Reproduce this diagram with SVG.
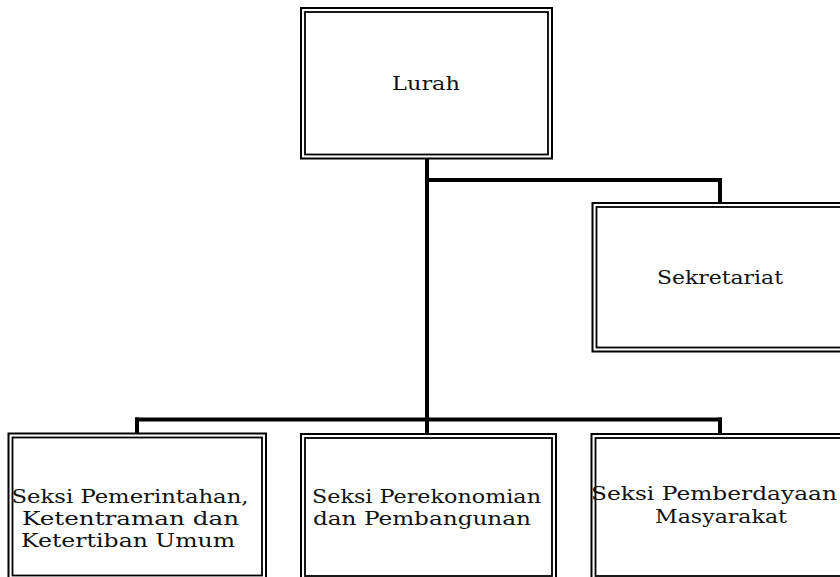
<svg xmlns="http://www.w3.org/2000/svg" width="840" height="577" viewBox="0 0 840 577">
<style>
.o{fill:none;stroke:#000;stroke-width:2}
.i{fill:none;stroke:#000;stroke-width:1.8}
.t{font-family:"DejaVu Serif","Liberation Serif",serif;font-size:18.5px;fill:#111;text-anchor:middle}
.c{fill:none;stroke:#000;stroke-width:4;stroke-linecap:square}
</style>
<rect width="840" height="577" fill="#fff"/>
<g id="connectors">
<path class="c" d="M427 160V432"/>
<path class="c" d="M427 180H720V201"/>
<path class="c" d="M137 419.5H720"/>
<path class="c" d="M137 419.5V431"/>
<path class="c" d="M720 419.5V432"/>
</g>
<g id="lurah">
<rect class="o" x="301" y="8" width="251" height="150.5"/>
<rect class="i" x="305" y="12" width="243" height="142.5"/>
<text class="t" x="426" y="90" textLength="68" lengthAdjust="spacingAndGlyphs">Lurah</text>
</g>
<g id="sekretariat">
<rect class="o" x="592.5" y="203" width="256" height="148.5"/>
<rect class="i" x="596.5" y="207" width="248" height="140.5"/>
<text class="t" x="720" y="284" textLength="126" lengthAdjust="spacingAndGlyphs">Sekretariat</text>
</g>
<g id="seksi-pemerintahan">
<rect class="o" x="8.5" y="433.5" width="257.5" height="146"/>
<rect class="i" x="12.5" y="437.5" width="249.5" height="138"/>
<text class="t" x="130" y="503" textLength="237" lengthAdjust="spacingAndGlyphs">Seksi Pemerintahan,</text>
<text class="t" x="130.5" y="525" textLength="217" lengthAdjust="spacingAndGlyphs">Ketentraman dan</text>
<text class="t" x="128" y="547" textLength="214" lengthAdjust="spacingAndGlyphs">Ketertiban Umum</text>
</g>
<g id="seksi-perekonomian">
<rect class="o" x="301" y="434" width="255" height="146"/>
<rect class="i" x="305" y="438" width="247" height="138"/>
<text class="t" x="426.5" y="503" textLength="229" lengthAdjust="spacingAndGlyphs">Seksi Perekonomian</text>
<text class="t" x="422" y="525" textLength="218" lengthAdjust="spacingAndGlyphs">dan Pembangunan</text>
</g>
<g id="seksi-pemberdayaan">
<rect class="o" x="591.5" y="434" width="258" height="146"/>
<rect class="i" x="595.5" y="438" width="250" height="138"/>
<text class="t" x="714" y="500" textLength="246" lengthAdjust="spacingAndGlyphs">Seksi Pemberdayaan</text>
<text class="t" x="721" y="523" textLength="132" lengthAdjust="spacingAndGlyphs">Masyarakat</text>
</g>
</svg>
